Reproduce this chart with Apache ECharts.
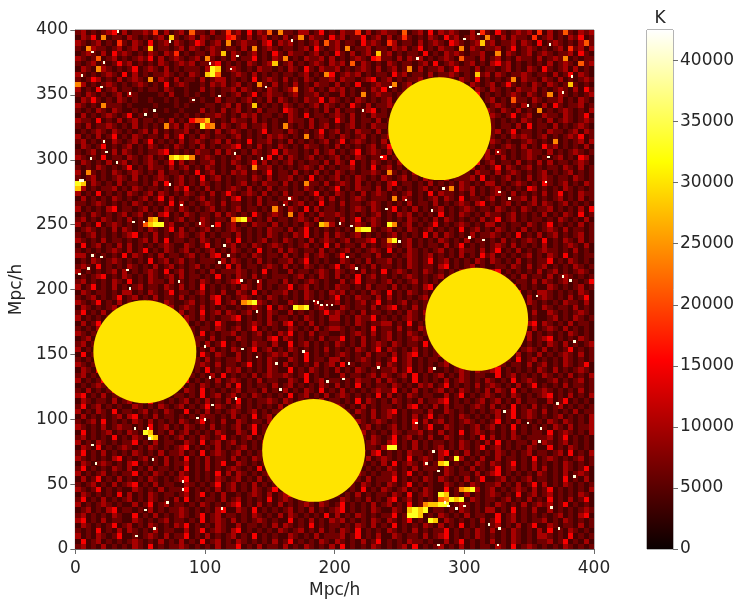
<!DOCTYPE html>
<html>
<head>
<meta charset="utf-8">
<style>
  html, body { margin: 0; padding: 0; background: #fff; }
  #chart { width: 747px; height: 607px; }
</style>
<script src="https://cdn.jsdelivr.net/npm/echarts@6/dist/echarts.min.js"></script>
</head>
<body>
<div id="chart"></div>
<script>
// estimated by eye, one digit per 4x4 Mpc/h cell, top row is y = 396..400
const tempRows = [
'2312123413 1223251312 3162213125 2314132617 2213312412 1322513123 2216123141 3232113152 1421232315 1312621323',
'1324171221 3212123182 1231321224 5213123121 3127132214 2312241231 3125212132 1423123217 2131322151 2312132412',
'3212312152 1321412313 2124312317 1232213413 2312123162 3122142321 5312213123 2143212382 3122313214 1232121362',
'2173221231 2312812212 3132123212 2131712321 2212314212 3171223122 1323124121 3221713212 2312412321 2123152313',
'1232131423 2121321325 1212213281 3212312142 1322123121 4213123182 3121221412 1323212231 1713212312 3212231421',
'3212612312 1232413123 2123172121 3122412132 7121322313 1212321452 2131323121 2321622131 2312132213 1232712122',
'2123121242 3121213212 3231223412 1213212381 2312123213 2316132121 3212212314 1232123121 3423121212 1312321623',
'1321732121 2412321312 1222139812 3212132212 1321421322 3121232131 2312713122 3124221312 2123121321 4212313121',
'3212123214 1312122321 2132189611 2321312121 2212312174 1232312122 1423122131 2232121823 1321223212 2131241321',
'2124312131 2321713213 1221312331 2121412321 3121321223 1322123412 3121223121 3221321412 1212713221 3213121232',
'7312123212 1232121412 3211213231 2312172131 2131213221 3121411232 2712312132 1222313212 3124212132 1321282121',
'3121412312 2121221321 1211312122 3132121321 2361231213 2312121324 1212312322 1724121321 3212132231 2123213142',
'2132121231 3211112131 1212112121 2312412322 1231223121 1312171232 2122313121 3321212412 1212321321 2713212123',
'1324212132 1211211212 1121211312 2123121313 2121322413 2121321212 3121241321 2312123212 3121622132 1223121321',
'3212172221 2111121112 1211122123 1312812121 3212123132 1214213122 3212312123 1261231231 2321213121 3142122312',
'2121321321 1212111211 2111312131 2312131221 4321212131 3122123412 1321232121 3212341213 2132131217 1212321213',
'1312123212 4121121112 1212122321 2132312212 1321412212 3213121322 1214123122 3121213221 3212412311 3221321241',
'3221412131 2312212131 2146682121 3221312121 1322131221 4213122131 2321123412 1321222173 2121213212 1312321232',
'2131223212 1312121723 1321967132 1231223121 7212131231 2123121322 1312232121 6312121323 2122131412 2131212321',
'1212321321 2123131212 2312121312 3212124122 1321212412 3121322131 2121541221 3112321312 2312412212 1322123132',
'3121312412 1321221312 4121321221 2312121323 2121712312 1321231212 3214121322 1712312132 2121323212 3121232412',
'2312121321 2312412121 3123212313 1214122312 1312121231 2412321213 1221312125 3121221431 3212112321 2171212313',
'1321241212 3121321213 2121312122 3412131213 2121322121 3121212312 4213121222 1321312171 2123213121 4231212131',
'2123121313 2121223412 1213221313 2121321241 3221213123 1212412321 3121213121 2212341213 1321212322 1312123212',
'3212141221 3212312189 8971232121 2312121413 1321231212 3121321224 1212312131 7212131223 2131212321 2123121431',
'1321213123 1212321241 3121223121 3212413121 2312122131 3214121321 2132121312 2312121412 3122131213 1312212321',
'2121321212 4121322131 2312132121 1321722312 1212321312 1223121412 3121321221 3212213121 2413212312 1221321312',
'3172121321 2321213122 1214123121 3231212412 2131213121 3212122321 7212131231 2124121322 1312321212 3121231212',
'2123121232 1312123212 3121412312 1221321312 2312141212 3121321213 2123121321 1312223141 2123121312 3212213212',
'9813212131 2212131412 3121321212 1231213221 3121722131 2321312121 3412212131 2121321213 3121232121 4212312132',
'8312122312 1321221213 2412131212 3213121312 2121321212 4121322131 3121212312 1271323121 2312121431 2121321212',
'3121412121 3212313212 1321213124 2123213121 3122124121 3212131232 1212312141 3221213121 2321312121 3124121322',
'1312121321 2123124131 2212312121 3412131212 2321212313 1212321222 1713212123 1321412212 3121223131 2123121312',
'2212321212 1321212141 3121232131 2212131221 3123121412 1312212321 2121312213 1212321341 2123121231 3212312121',
'3121213412 2123121321 3212123121 2312212172 1321413122 1212321321 2412131212 3121232122 1321213212 2312121314',
'1213212123 1231213412 1321221313 2121421232 1713121322 3212121231 2132312121 4121321213 2212312121 3121321412',
'2312132121 3121781212 3121321221 6893121312 2123213122 1312412321 2121321213 1321212131 2412312122 1213212131',
'3121412321 2126899231 1212321412 3121322131 2121321873 1212321321 9712312124 1212321213 3121221321 2412121312',
'1232121313 2121321241 3121231212 3212121322 1312412121 2121899212 3121321231 2121412312 1321213121 2321312212',
'2123121212 3412131212 3212312122 1312121321 2132412131 3212312121 2312121413 1321213122 3212141213 1231212312',
'3212131221 2123131412 2121321213 1412123121 3212131232 1231223412 7912312121 3212131221 2131212321 4121321312',
'1412312131 3121212321 1321241212 3121321232 1212312141 3122131212 3212312122 1312412121 2321312121 3121232131',
'2121212321 3124121321 2312123121 3212141213 1321221312 1231212321 4121321212 3121322131 2412131212 3221213121',
'3312121214 1321213122 1231213412 2121321221 3121312321 2412122131 1212321231 2121312142 3121212312 1321412122',
'1213212321 2121412312 3121222131 3212131212 2312412121 1321213122 3121321241 2312121321 3212131212 2412132121',
'2321412121 3212131231 2123121214 1312212321 3121321212 4123121312 2121321221 3412123121 1221321312 3121213212',
'3121212313 1212321412 3121213122 2321214121 1312212321 3212131214 1232121321 2121322131 3412121213 1231212321',
'1212341213 2121321231 3122121412 1321312122 2123121321 3121412312 1212321212 3121321413 2121213122 1312321212',
'2312121321 4121322131 2121321212 3412131221 3121232121 1312412212 3121231212 1321212314 2312122131 3212312124',
'3124121312 1231221321 3121412121 2132131212 2412312121 3221213122 1312121341 2123213121 3212412121 1321212312',
'1321221213 3121321241 2212312131 1321412122 3121321213 2312121321 4121321212 1312321222 2123141213 3212121321',
'2123121241 2312131221 3121213412 1232121321 2121321212 4121322131 3121212312 2412131213 1321221312 3212131241',
'3212412131 2121321321 1231212412 3178932121 1321213122 3121231241 2123121213 1312212321 3412121321 2121322131',
'1321212312 3241212131 2321312121 1212321413 2198912321 1321221312 3412131212 2121321213 1312412121 3212213121',
'2412131212 1321223121 3121412313 2123121321 1312121242 3212131221 2121321312 3121214123 2312212131 1321212321',
'3121212321 2131241212 1321312122 3412121312 2121321213 3121322412 1212321231 2312121312 3121412121 1231213212',
'1312412122 3121321213 2312121421 1212321321 3412131212 2121321223 3121412131 1321212312 2123121341 3212131221',
'2121321212 1412312131 3121221321 2312412121 1321213123 3212121412 2131213212 3121321213 1412122131 2321312121',
'3212141231 2321213121 1321412122 3121231213 2412131221 1212321312 3121321241 2312121213 1321412312 1212132121',
'1231212312 3121412121 2312213121 1321221341 3212121312 2412131212 3121232121 1321412213 2123121312 3412121321',
'2312121421 1321321212 3212131241 2121322131 1412312121 3212131232 1321221412 3121213212 2312141212 1321312123',
'3121321212 2412131221 1231213121 3212412312 1321212131 2121321241 3212131212 1412321213 2121312321 3121241212',
'1412123121 3212312131 2121421321 1312121232 3121412121 2321213122 1312341212 3121221321 2412131213 1212321312',
'2121321241 1312212121 3412131212 2312121321 1321412213 3121232121 2412312122 1321213121 3212141231 2121321212',
'3212131212 4121321231 1212321312 2124121321 3121213123 1412122131 3212312121 2312412121 1321221312 3121321241',
'1321412122 2123121312 3212141213 2312121321 1412132121 3121321212 2312412131 1212321322 3412121213 2131212321',
'2312121341 3121321212 1321213141 2121312322 3212412121 1312212313 2123141212 3121321221 1412312121 3212131213',
'3121241213 1321212321 2412121312 3212131221 1321412312 2121322131 3212141212 1312321213 2121412321 1231212312',
'1212321312 2412131212 3121321213 1412122131 2312121321 3121412122 1321213231 2412121312 3212131241 2121312212',
'2131212412 3212121321 1321412121 2312213121 3121321412 1312121232 2412131212 3121321213 1321412122 3212121312',
'3412131221 1231213212 2121412312 3121321212 1412312131 2321212141 3121321221 1312412123 2121321212 3412131213',
'1321221312 3121412121 2312131213 1412122321 3212121312 2121413212 1321213122 3412121231 2312131221 1312412121',
'2412312121 1321213212 3121241321 2312121213 1321412122 3212131212 2121341213 1312212321 3121412131 2123121212',
'3121321412 2123121321 1412131212 3212312122 1231241213 2121321312 3412122131 1321212121 2312412321 3121213122',
'1312121231 3412131221 2121322121 3121412312 1321213123 2412121312 3212131241 2121321212 1312412321 2123121213',
'2123141212 1321312121 3212412131 1321221312 2412121321 3121321232 1212141312 3121232121 2412131212 1321321213',
'3212131232 2121412312 1321213121 2312412122 3121321212 1412123121 2312131241 1321212312 3121412121 2132131223',
'1412123121 3219812131 2312121321 1321412213 2121321212 3412131212 1321223121 3121412321 2121312122 1412321213',
'2312121412 1321981212 3121321241 2123121312 1412131212 3212121321 2412312131 1321212141 3121321222 2312412121',
'3121321212 2412131221 1321412312 3121213212 2312121413 1321212321 3412131212 2121321213 1412122131 3212312121',
'1321412123 2121321212 3412121312 1231212131 3212412321 2121312213 9912131212 3121321241 2312121321 1412132121',
'2412131212 1321213122 3121412321 2312121213 1412131212 3212121341 2121322121 3412131212 1321212312 2123141213',
'3212121341 2123121312 1412131221 3121321212 2412312121 1321213123 2121412321 3129312131 1312212141 2321212312',
'1321232121 3412121312 2312131241 1321212321 3121412122 2123121213 1412321312 8912121321 3212412131 2121321212',
'2412121321 3121312212 1412131212 3212141213 2123121321 1312412121 3212131222 1321213121 2412312131 3121321241',
'3121231212 2412132121 3212121413 1321212312 1412131221 3121321212 2312412121 1321221312 3412121213 2121312321',
'1312412131 2121321212 3412121321 2312131212 3121412312 1321213122 2412121321 3212131241 1231212312 2121412131',
'2123121312 3412131221 1321212412 3121312122 2312121321 1412132121 3212412121 1321213212 2312131241 3121321212',
'3212412121 1321213122 2412121312 3121321241 1312212121 3212141213 2123121321 1412789312 3121232131 2412121213',
'1321212141 3121321221 2312412131 1212321312 3412121213 2121312122 1321412321 9812131212 3212141231 2312121321',
'2412131212 3121321213 1412122131 2312121412 3212131221 1321213121 3412312121 6798913212 2123121312 1412131241',
'3121232121 1312412312 2121321212 3412131213 1212321321 2412121312 3121412788 9912321212 1321213123 2312412121',
'1231213412 2121312122 3212121341 1321412121 2312131212 3412121321 1321898912 2121321213 3121412131 1312121232',
'2312121321 1412131212 3212412312 2121321213 1321212141 3121321212 2412998121 3212131221 1412312121 2123121341',
'3412131221 1321212312 2121412321 3121232121 1412131213 2312121321 3212412198 1321212131 2412312122 3121321212',
'1321212412 3121321213 2412121321 1312212131 3212141212 2121321312 1412121321 3121412121 2312131241 1321221312',
'2121412131 3212131221 1312412321 3412121213 2123121312 1321412121 3212131212 2412121321 3121321213 1412132121',
'3121321241 1212321312 2412131212 3121412121 1321213122 2312412131 1321221312 3412121321 2121321213 3212141212',
'1412312121 2321213121 3121412312 1321212131 2412121321 3212131241 2121322121 1312412121 3121321212 2312412131',
'2312131212 1321412122 3212121312 2412131221 3121321213 1412121321 2123141212 3121312122 1321412321 2121321212',
'3712121321 2121412131 1321223121 3412131212 2312121341 1312212321 3121412121 2897121321 1412981213 3212131221',
]
const cellSize = 4
// brightest single cells, in Mpc/h
const speckX = [4, 21, 12, 32, 72, 103, 119, 124, 166, 53, 60, 90, 110, 146, 41, 19, 21, 23, 122, 143, 3, 5, 31, 11, 72, 81, 160, 164, 52, 44, 105, 95, 114, 110, 117, 12, 9, 39, 127, 140, 79, 41, 2, 19, 275, 284, 287, 293, 299, 366, 318, 279, 325, 206, 194, 233, 210, 276, 270, 279, 262, 348, 358, 357, 384, 371, 189, 197, 183, 330, 326, 372, 384, 55, 56, 82, 82, 12, 128, 139, 154, 99, 105, 93, 99, 53, 112, 60, 46, 15, 59, 186, 193, 193, 157, 103, 175, 139, 70, 123, 45, 221, 242, 310, 365, 382, 375, 348, 283, 274, 239, 254, 326, 212, 203, 209, 303, 362, 364, 325, 249, 381, 375, 355, 216, 263, 235, 299, 314, 334]
const speckY = [364, 374, 382, 398, 390, 373, 369, 379, 391, 334, 337, 345, 348, 355, 350, 355, 313, 305, 304, 300, 283, 283, 297, 300, 280, 264, 264, 269, 251, 251, 248, 250, 233, 220, 225, 225, 215, 214, 206, 205, 205, 200, 211, 224, 74, 35, 32, 30, 32, 31, 18, 2, 2, 130, 128, 139, 142, 138, 65, 59, 96, 96, 92, 82, 159, 111, 187, 187, 190, 105, 15, 15, 55, 92, 84, 51, 45, 79, 153, 147, 142, 155, 110, 100, 99, 29, 30, 15, 9, 65, 68, 189, 187, 128, 122, 131, 151, 182, 35, 115, 92, 337, 355, 396, 388, 363, 351, 341, 277, 260, 261, 268, 274, 248, 250, 224, 239, 282, 301, 305, 236, 206, 209, 194, 215, 377, 301, 392, 237, 269]
const speckSize = 2
const speckTemp = 41000
// centre x, centre y, radius of the yellow discs in Mpc/h
const discX = [53.6, 183.8, 281, 309.5]
const discY = [152, 76, 324, 177]
const discR = [39.7, 39.7, 39.7, 39.7]
const discTemp = 30000
const levelTemps = [2500, 4000, 6500, 10000, 15000, 18000, 21000, 24000, 28000, 33000]
const barTicks = [0, 5000, 10000, 15000, 20000, 25000, 30000, 35000, 40000]
const tempMax = 42500
const hotStops = [[0, '#0a0000'], [0.365, '#ff0000'], [0.746, '#ffff00'], [1, '#ffffff']]

const textColor = '#262626'
const lineColor = '#6b6b6b'
const fontFamily = '"DejaVu Sans", sans-serif'

function hotColor(temp) {
  const t = Math.min(temp / tempMax, 1)
  for (let i = 1; i < hotStops.length; i++) {
    if (t <= hotStops[i][0]) {
      const f = (t - hotStops[i - 1][0]) / (hotStops[i][0] - hotStops[i - 1][0])
      return echarts.color.lerp(f, [hotStops[i - 1][1], hotStops[i][1]])
    }
  }
  return '#ffffff'
}

let cells = []
tempRows.forEach((row, r) => {
  row.replace(/ /g, '').split('').forEach((d, c) => {
    cells.push([c * cellSize, 400 - (r + 1) * cellSize, levelTemps[+d], cellSize])
  })
})
speckX.forEach((x, i) => {
  cells.push([x, speckY[i], speckTemp, speckSize])
})
let discs = discX.map((x, i) => [x, discY[i], discR[i], discTemp])

function mainAxis(name, gap) {
  return {
    type: 'value',
    min: 0,
    max: 400,
    interval: 50,
    name: name,
    nameLocation: 'middle',
    nameGap: gap,
    nameTextStyle: { fontSize: 17, color: textColor, fontFamily: fontFamily },
    axisLine: { show: true, onZero: false, lineStyle: { color: lineColor } },
    axisTick: { show: true, length: 5, lineStyle: { color: lineColor } },
    axisLabel: { fontSize: 17, color: textColor, fontFamily: fontFamily, margin: 7, hideOverlap: false },
    splitLine: { show: false }
  }
}

let xMain = mainAxis('Mpc/h', 33)
xMain.interval = 100
xMain.axisLabel.margin = 11
let yMain = mainAxis('Mpc/h', 50)
yMain.axisLabel.padding = [6, 0, 0, 0]

let option = {
  backgroundColor: '#fff',
  animation: false,
  grid: [
    { left: 75, top: 30, width: 519, height: 519, show: true, borderColor: lineColor, borderWidth: 1, backgroundColor: '#7a0000' },
    { left: 647, top: 30, width: 26, height: 519, show: true, borderColor: lineColor, borderWidth: 1 }
  ],
  xAxis: [
    xMain,
    {
      gridIndex: 1,
      type: 'category',
      position: 'top',
      data: ['K'],
      name: 'K',
      nameLocation: 'middle',
      nameGap: 3,
      nameTextStyle: { fontSize: 17, color: textColor, fontFamily: fontFamily },
      axisLine: { show: false },
      axisTick: { show: false },
      axisLabel: { show: false }
    }
  ],
  yAxis: [
    yMain,
    {
      gridIndex: 1,
      type: 'value',
      position: 'right',
      min: 0,
      max: tempMax,
      axisLine: { show: false },
      axisTick: { show: true, length: 5, customValues: barTicks, lineStyle: { color: lineColor } },
      axisLabel: { fontSize: 17, color: textColor, fontFamily: fontFamily, margin: 7, padding: [6, 0, 0, 0], customValues: barTicks, formatter: v => String(v) },
      splitLine: { show: false }
    }
  ],
  series: [
    {
      type: 'custom',
      xAxisIndex: 0,
      yAxisIndex: 0,
      data: cells,
      clip: true,
      silent: true,
      progressive: 0,
      renderItem: function (params, api) {
        let size = api.value(3)
        let p0 = api.coord([api.value(0), api.value(1) + size])
        let p1 = api.coord([api.value(0) + size, api.value(1)])
        let x = Math.round(p0[0])
        let y = Math.round(p0[1])
        return {
          type: 'rect',
          shape: { x: x, y: y, width: Math.round(p1[0]) - x, height: Math.round(p1[1]) - y },
          style: { fill: hotColor(api.value(2)) }
        }
      }
    },
    {
      type: 'custom',
      xAxisIndex: 0,
      yAxisIndex: 0,
      data: discs,
      silent: true,
      z: 3,
      renderItem: function (params, api) {
        let c = api.coord([api.value(0), api.value(1)])
        return {
          type: 'circle',
          shape: { cx: c[0], cy: c[1], r: api.size([api.value(2), 0])[0] },
          style: { fill: hotColor(api.value(3)) }
        }
      }
    },
    {
      type: 'bar',
      xAxisIndex: 1,
      yAxisIndex: 1,
      data: [tempMax],
      barWidth: '100%',
      silent: true,
      itemStyle: {
        color: new echarts.graphic.LinearGradient(0, 1, 0, 0, hotStops.map(s => ({ offset: s[0], color: s[1] })))
      }
    }
  ]
}

let chart = echarts.init(document.getElementById('chart'), null, { renderer: 'canvas' })
chart.setOption(option)
</script>
</body>
</html>
